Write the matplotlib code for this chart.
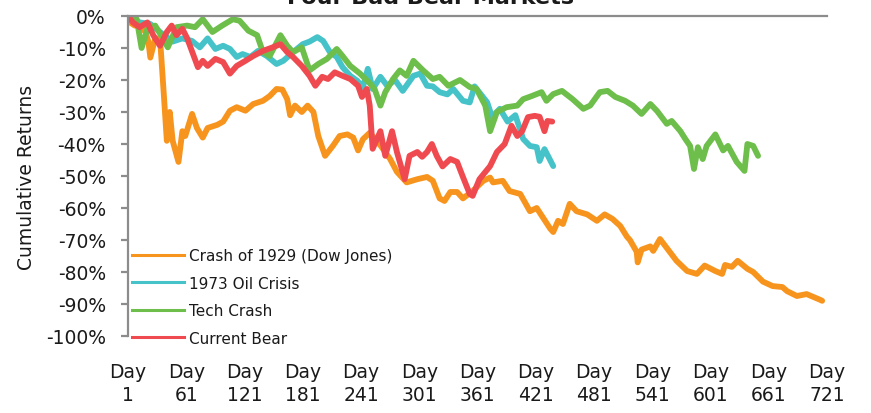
import matplotlib
matplotlib.use("Agg")
import matplotlib.pyplot as plt
from matplotlib.lines import Line2D

# Day index and cumulative return (%) for each bear market
crash_1929_days = [1, 3, 8, 13, 19, 22, 24, 29, 34, 38, 41, 44, 47, 53, 57, 60, 67, 72, 78, 83,
                   93, 99, 106, 113, 122, 130, 140, 147, 154, 160, 165, 168, 173, 180, 186, 192,
                   197, 204, 212, 219, 227, 233, 238, 243, 250, 260, 271, 278, 288, 299, 309, 315,
                   322, 327, 333, 340, 346, 356, 367, 374, 377, 387, 394, 405, 415, 422, 436, 439,
                   444, 449, 456, 463, 474, 484, 492, 500, 508, 515, 518, 525, 526, 530, 539, 542,
                   549, 559, 566, 577, 587, 595, 606, 613, 616, 623, 629, 639, 645, 655, 665, 675,
                   680, 690, 700, 707, 714, 716]
crash_1929_ret = [0, -2, -3, -3, -5, -8, -13, -7, -7, -25, -39, -30, -39, -45.6, -36, -37.5, -30.6,
                  -35, -38, -35, -34, -33, -29.6, -28.5, -29.6, -27.5, -26.5, -25, -22.8, -23, -26,
                  -31, -28, -30, -28, -30, -37.5, -43.7, -40.6, -37.5, -37, -38, -42, -38.5, -36.5,
                  -40, -44.7, -48.7, -52, -51, -50.3, -51.5, -57, -57.8, -55, -55, -57, -54.7,
                  -51.5, -50.5, -52, -51.5, -54.7, -55.6, -61, -60, -66.5, -67.5, -64, -65, -58.7,
                  -61, -62, -64, -62, -63.4, -65.6, -69, -70, -73.7, -77, -73, -72, -73.4, -69.7,
                  -73.7, -76.5, -79.7, -80.6, -78, -79.7, -80.6, -77.8, -78.4, -76.5, -79, -80, -83,
                  -84.4, -84.7, -86, -87.5, -86.9, -87.8, -88.7, -89]

oil_1973_days = [1, 13, 24, 34, 47, 57, 67, 75, 83, 91, 99, 106, 113, 119, 127, 135, 144, 154, 161,
                 171, 181, 188, 196, 202, 209, 216, 222, 230, 237, 243, 248, 253, 261, 268, 276, 284,
                 295, 302, 309, 315, 322, 330, 336, 346, 353, 358, 371, 376, 384, 392, 400, 408, 415,
                 422, 425, 430, 439]
oil_1973_ret = [0, -2, -2.5, -5, -8, -7, -7.8, -9.8, -7, -10.3, -9.3, -10.3, -12.8, -11.9, -12.8,
                -10.9, -12.5, -15, -14, -11.3, -8.8, -8, -6.6, -7.8, -11.3, -12.8, -16, -18.7, -20.2,
                -22.2, -16.5, -22.8, -19, -21.8, -20, -23.4, -18.7, -18, -21.8, -22, -23.8, -24.5,
                -22.8, -26.5, -27, -22, -27, -31.6, -29, -33, -31, -38.4, -40.6, -41, -45.3, -41.6,
                -46.9]

tech_days = [1, 10, 15, 21, 29, 37, 42, 51, 62, 70, 78, 88, 98, 109, 116, 125, 134, 140, 147, 158,
             165, 171, 180, 188, 197, 206, 216, 222, 230, 240, 250, 255, 261, 266, 274, 281, 288,
             295, 305, 315, 322, 331, 343, 353, 360, 369, 374, 381, 391, 402, 408, 417, 427, 432,
             439, 448, 459, 470, 477, 487, 495, 503, 513, 521, 530, 539, 546, 556, 561, 570, 575,
             580, 584, 588, 593, 597, 606, 614, 619, 628, 636, 639, 645, 650]
tech_ret = [0, -1, -10, -4, -3, -7, -9.8, -3.5, -3, -3.5, -1, -5, -3, -1, -1.5, -4.6, -6, -11.3,
            -12.5, -6, -9.3, -11.3, -9.8, -17, -15, -13.4, -10.3, -12.5, -15.6, -18, -21, -22.8, -28,
            -23.8, -19.7, -17, -18.7, -14, -17, -19.7, -19, -21.8, -20, -22.2, -22.8, -28, -36, -30,
            -28.5, -28, -26, -25, -23.8, -26.5, -24.4, -23.4, -26, -29, -28, -23.8, -23.4, -25.3,
            -26.5, -28, -30.6, -27.5, -29.7, -33.7, -32.8, -36, -38.4, -40.6, -47.8, -41, -44.7,
            -40.6, -37, -42, -40.6, -45.6, -48.4, -40, -40.6, -43.7]

current_days = [1, 6, 13, 21, 27, 34, 41, 46, 51, 57, 62, 68, 73, 78, 83, 91, 99, 106, 113, 122,
                130, 140, 150, 158, 165, 171, 180, 188, 194, 201, 207, 214, 222, 230, 238, 242, 247,
                250, 253, 261, 266, 273, 278, 286, 291, 299, 304, 309, 314, 319, 325, 333, 340, 346,
                353, 356, 363, 374, 381, 389, 396, 402, 407, 413, 420, 425, 430, 433, 438]
current_ret = [0, -2, -3.5, -2, -6, -9.3, -5, -3, -6, -4, -7, -11.9, -16, -14, -15.6, -13.4, -14.4,
               -18, -15.6, -14, -12.5, -10.9, -9.8, -8.8, -11.3, -12.8, -15.6, -18.7, -21.8, -19,
               -19.7, -17.6, -18.7, -19.7, -21.8, -25.3, -22.8, -28, -41.5, -36, -43.7, -36, -42.5,
               -51, -43.7, -42.5, -44, -42.5, -40, -43.7, -47, -44.7, -45.6, -50.3, -55.6, -56.2,
               -51, -46.9, -42.5, -40, -34.3, -37.5, -36, -31.6, -31.2, -31.5, -36, -32.8, -33]

series_names = ["Crash of 1929 (Dow Jones)", "1973 Oil Crisis", "Tech Crash", "Current Bear"]
series_colors = ["#F7941D", "#45C3C9", "#6DBE4B", "#EF4A50"]

tick_days = list(range(1, 722, 60))
y_ticks = list(range(0, -101, -10))

FONT = "DejaVu Sans"
TEXT_COLOR = "#1a1a1a"
AXIS_COLOR = "#8c8c8c"


def build_chart():
    fig = plt.figure(figsize=(8.71, 4.14), dpi=100)
    ax = fig.add_axes([128 / 871, 1 - 337 / 414, 699 / 871, 320 / 414])

    data = [(crash_1929_days, crash_1929_ret),
            (oil_1973_days, oil_1973_ret),
            (tech_days, tech_ret),
            (current_days, current_ret)]
    for (days, ret), color in zip(data, series_colors):
        ax.plot(days, ret, color=color, lw=4.2, solid_joinstyle="round",
                solid_capstyle="round")

    ax.set_xlim(1, 721)
    ax.set_ylim(-100, 0)

    # zero line on top acts as the horizontal axis, labels sit below the plot
    for side in ["bottom", "right"]:
        ax.spines[side].set_visible(False)
    for side in ["top", "left"]:
        ax.spines[side].set_color(AXIS_COLOR)
        ax.spines[side].set_linewidth(1.6)

    ax.set_yticks(y_ticks)
    ax.set_yticklabels([f"{v}%" for v in y_ticks])
    ax.tick_params(axis="y", length=5, width=1.6, color=AXIS_COLOR,
                   labelsize=13.5, labelcolor=TEXT_COLOR, pad=11)

    ax.set_xticks(tick_days)
    ax.set_xticklabels([f"Day\n{d}" for d in tick_days], linespacing=1.25)
    ax.tick_params(axis="x", length=0, labelsize=13.5, labelcolor=TEXT_COLOR, pad=19)

    for lbl in ax.get_xticklabels() + ax.get_yticklabels():
        lbl.set_fontfamily(FONT)

    ax.set_ylabel("Cumulative Returns", fontsize=13.5, color=TEXT_COLOR, family=FONT)
    ax.yaxis.set_label_coords(-0.132, 0.5)

    # legend with thinner sample lines, overlapping the bottom edge
    handles = [Line2D([0], [0], color=c, lw=2.2) for c in series_colors]
    fig.legend(handles, series_names, loc="upper left",
               bbox_to_anchor=(132 / 871, 1 - 249 / 414), frameon=False,
               prop={"family": FONT, "size": 11}, labelcolor=TEXT_COLOR,
               handlelength=3.4, handletextpad=0.35, labelspacing=0.82,
               borderpad=0, borderaxespad=0)

    # title is partly cut off by the top edge in the original
    fig.text(430 / 871, 1 - 4 / 414, "Four Bad Bear Markets", ha="center",
             va="baseline", fontsize=16, fontweight="bold", family=FONT,
             color=TEXT_COLOR)

    return fig


def main():
    fig = build_chart()
    fig.savefig("out.png", dpi=100)


if __name__ == "__main__":
    main()
